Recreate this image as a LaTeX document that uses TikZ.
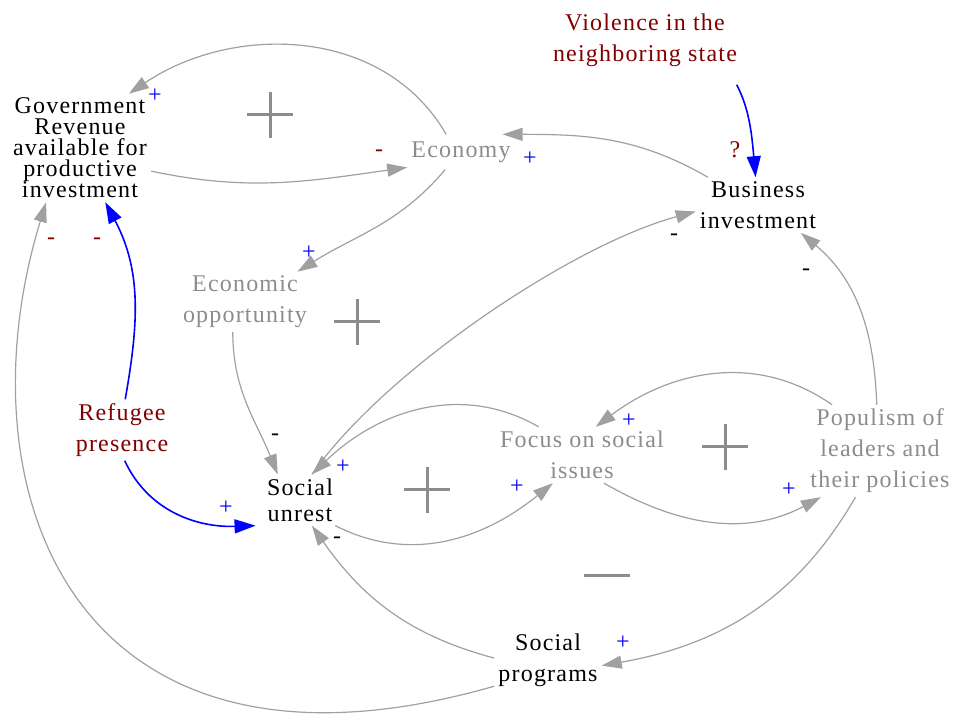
\documentclass[tikz,border=0pt]{standalone}
\usepackage{fontspec}
\setmainfont{Liberation Serif}[LetterSpace=5]
\usetikzlibrary{arrows.meta}
\definecolor{linkgray}{RGB}{160,160,160}
\definecolor{textgray}{RGB}{140,140,140}
\definecolor{loopgray}{RGB}{140,140,140}
\definecolor{darkred}{RGB}{128,0,0}

\begin{document}
\begin{tikzpicture}[x=1pt,y=1pt,
    var/.style={align=center,inner sep=4pt,font=\fontsize{24}{31}\selectfont},
    aux/.style={var,text=textgray},
    ext/.style={var,text=darkred},
    link/.style={draw=linkgray,line width=1.2pt,-{Triangle[length=20pt,width=13pt]}},
    inflow/.style={draw=blue,line width=1.6pt,-{Triangle[length=21pt,width=14pt]}},
    polpos/.style={text=blue,font=\fontsize{24}{24}\selectfont,inner sep=0pt},
    polneg/.style={font=\fontsize{24}{24}\selectfont,inner sep=0pt},
    loopsign/.style={draw=loopgray,line width=3pt}]
    \useasboundingbox (0,0) rectangle (954,717);

    % variables
    \node[var,font=\fontsize{24}{21}\selectfont] (gov) at (80,569) {Government\\Revenue\\available for\\productive\\investment};
    \node[aux,inner ysep=7pt] (eco) at (461,565) {Economy};
    \node[var] (bus) at (758,512) {Business\\investment};
    \node[ext] (vio) at (645,677) {Violence in the\\neighboring state};
    \node[aux] (eop) at (245,415) {Economic\\opportunity};
    \node[var,inner xsep=12pt,font=\fontsize{24}{26}\selectfont] (unr) at (300,217) {Social\\unrest};
    \node[ext] (ref) at (122,287) {Refugee\\presence};
    \node[aux] (foc) at (582,262) {Focus on social\\issues};
    \node[aux] (pop) at (880,266) {Populism of\\leaders and\\their policies};
    \node[var] (prog) at (548,57) {Social\\programs};

    % links
    \draw[link] (eco.130) to[out=120,in=34] (gov.48);
    \draw[link] (gov.-18) to[out=-12,in=188] (eco.196);
    \draw[link] (eco.228) to[out=230,in=32] (eop.30);
    \draw[link] (bus.151) to[out=150,in=0] (eco.23);
    \draw[inflow,shorten <=16pt] (vio.-20) to[out=-62,in=95] (bus.95);
    \draw[link] (unr.65) to[out=55,in=195,looseness=0.7] (bus.186);
    \draw[link] (eop.248) to[out=-90,in=112] (unr.131);
    \draw[link] (foc.147) to[out=150,in=44] (unr.65);
    \draw[link] (unr.-36) to[out=-27,in=219] (foc.224);
    \draw[link] (pop.136) to[out=145,in=37] (foc.64);
    \draw[link] (foc.-52) to[out=-30,in=208] (pop.218);
    \draw[link] (pop.94) to[out=92,in=-40] (bus.-33);
    \draw[link] (pop.242) to[out=-120,in=10] (prog.-6);
    \draw[link] (prog.178) to[out=165,in=-55] (unr.-65);
    \draw[link] (prog.206) to[out=196,in=253,out looseness=1.7,in looseness=1.17] (gov.238);
    \draw[inflow] (ref.84) to[out=80,in=-62] (gov.-65);
    \draw[inflow] (ref.-85) to[out=-65,in=182] (unr.210);

    % polarities
    \node[polpos] (s1) at (155,621) {+};
    \node[polneg,text=darkred] (s2) at (379,564) {-};
    \node[polpos] (s3) at (530,558) {+};
    \node[polneg,text=darkred] (s4) at (735,567) {?};
    \node[polpos] (s5) at (309,464) {+};
    \node[polneg] (s6) at (674,480) {-};
    \node[polneg] (s7) at (806,445) {-};
    \node[polneg,text=darkred] (s8) at (51,476) {-};
    \node[polneg,text=darkred] (s9) at (97,476) {-};
    \node[polneg] (s10) at (275,280) {-};
    \node[polpos] (s11) at (343,250) {+};
    \node[polpos] (s12) at (517,230) {+};
    \node[polpos] (s13) at (629,296) {+};
    \node[polpos] (s14) at (789,227) {+};
    \node[polpos] (s15) at (226,209) {+};
    \node[polneg] (s16) at (337,177) {-};
    \node[polpos] (s17) at (623,74) {+};

    % loop signs
    \draw[loopsign] (247,602) -- (293,602) (270,579) -- (270,625);
    \draw[loopsign] (334,395) -- (380,395) (357,372) -- (357,418);
    \draw[loopsign] (404,227) -- (450,227) (427,204) -- (427,250);
    \draw[loopsign] (702,270) -- (748,270) (725,247) -- (725,293);
    \draw[loopsign] (584,141) -- (630,141);
\end{tikzpicture}
\end{document}
